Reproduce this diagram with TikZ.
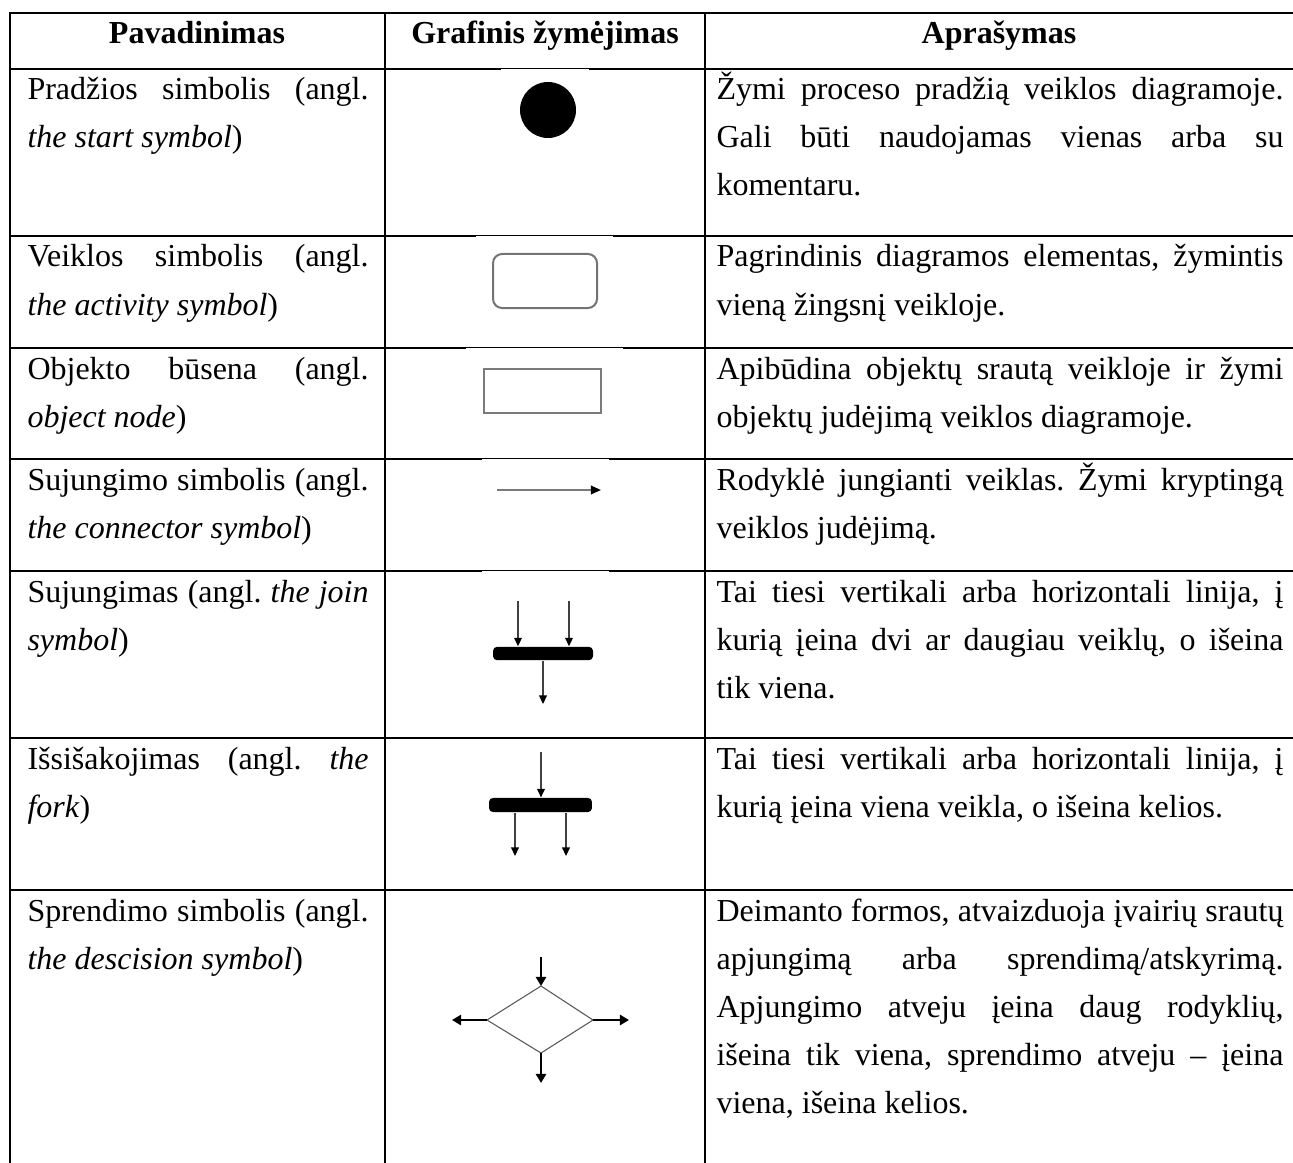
\documentclass[tikz,border=0pt]{standalone}
\usepackage{fontspec}
\setmainfont{Liberation Serif}
\usetikzlibrary{arrows.meta}
% the font's own interword spacing (TikZ alignment fixes it otherwise)
\newcommand\natsp{\spaceskip=0pt\xspaceskip=0pt\relax}
% justified lines of the two text columns
\newcommand\nline[1]{\makebox[127.9pt][s]{\natsp#1}}
\newcommand\dline[1]{\makebox[212.6pt][s]{\natsp#1}}
\definecolor{boxgray}{HTML}{747474}
\definecolor{arrgray}{HTML}{7A7A7A}
\begin{document}
\frenchspacing
\begin{tikzpicture}[x=0.375pt,y=-0.375pt,
  gridline/.style={line width=0.75pt,line cap=rect},
  thinseg/.style={line width=0.375pt},
  head/.style={anchor=base,inner sep=0pt,font=\fontsize{12}{18}\selectfont\bfseries},
  namecell/.style={anchor=base west,inner sep=0pt,text width=127.9pt,align=left,
    font=\fontsize{12}{18}\selectfont},
  desccell/.style={anchor=base west,inner sep=0pt,text width=212.6pt,align=left,
    font=\fontsize{12}{18}\selectfont},
  startdot/.style={circle,fill=black,minimum size=21pt,inner sep=0pt},
  activity/.style={draw=boxgray,line width=0.75pt,rounded corners=3.4pt,
    minimum width=39pt,minimum height=20.25pt,inner sep=0pt},
  objnode/.style={draw=arrgray,line width=0.95pt,
    minimum width=43.9pt,minimum height=16.5pt,inner sep=0pt},
  bar/.style={fill=black,rounded corners=1.5pt,minimum width=37.5pt,
    minimum height=5pt,inner sep=0pt},
  conn/.style={draw=arrgray,line width=0.75pt,
    -{Triangle[length=3.8pt,width=3.2pt,fill=black,color=black]}},
  thinarrow/.style={draw=black!75,line width=0.45pt,
    -{Triangle[length=3.2pt,width=2.9pt,fill=black,color=black]}},
  decarrow/.style={draw=black,line width=0.85pt,
    -{Triangle[length=3.4pt,width=3.8pt]}},
  diam/.style={draw=black!65,line width=0.4pt}]

\useasboundingbox (0,0) rectangle (1293,1162);
\fill[white] (0,0) rectangle (1293,1162);

% table rules
\foreach \yy in {13,738,890} \draw[gridline] (10,\yy) -- (1293,\yy);
\foreach \yy/\aa/\bb in {69/500/590,236/475/614,348/465/624,459/481/610,571/481/610}{
  \draw[gridline] (10,\yy) -- (\aa,\yy);
  \draw[gridline] (\bb,\yy) -- (1293,\yy);
  \draw[thinseg] (\aa,\yy-0.5) -- (\bb,\yy-0.5);
}
\foreach \xx in {10,385,705} \draw[gridline] (\xx,13) -- (\xx,1162);

% header
\node[head] (h1) at (197,44) {Pavadinimas};
\node[head] (h2) at (545,44) {Grafinis žymėjimas};
\node[head] (h3) at (999,44) {Aprašymas};

% names
\node[namecell] (n1) at (27,100) {\natsp\nline{Pradžios simbolis (angl.}\\\textit{the start symbol})};
\node[namecell] (n2) at (27,267) {\natsp\nline{Veiklos simbolis (angl.}\\\textit{the activity symbol})};
\node[namecell] (n3) at (27,379) {\natsp\nline{Objekto būsena (angl.}\\\textit{object node})};
\node[namecell] (n4) at (27,490) {\natsp\nline{Sujungimo simbolis (angl.}\\\textit{the connector symbol})};
\node[namecell] (n5) at (27,602) {\natsp\nline{Sujungimas (angl. \textit{the join}}\\\textit{symbol})};
\node[namecell] (n6) at (27,769) {\natsp\nline{Išsišakojimas (angl. \textit{the}}\\\textit{fork})};
\node[namecell] (n7) at (27,921) {\natsp\nline{Sprendimo simbolis (angl.}\\\textit{the descision symbol})};

% descriptions
\node[desccell] (d1) at (716,100) {\natsp\dline{Žymi proceso pradžią veiklos diagramoje.}\\
  \dline{Gali būti naudojamas vienas arba su}\\komentaru.};
\node[desccell] (d2) at (716,267) {\natsp\dline{Pagrindinis diagramos elementas, žymintis}\\
  vieną žingsnį veikloje.};
\node[desccell] (d3) at (716,379) {\natsp\dline{Apibūdina objektų srautą veikloje ir žymi}\\
  objektų judėjimą veiklos diagramoje.};
\node[desccell] (d4) at (716,490) {\natsp\dline{Rodyklė jungianti veiklas. Žymi kryptingą}\\
  veiklos judėjimą.};
\node[desccell] (d5) at (716,602) {\natsp\dline{Tai tiesi vertikali arba horizontali linija, į}\\
  \dline{kurią įeina dvi ar daugiau veiklų, o išeina}\\tik viena.};
\node[desccell] (d6) at (716,769) {\natsp\dline{Tai tiesi vertikali arba horizontali linija, į}\\
  kurią įeina viena veikla, o išeina kelios.};
\node[desccell] (d7) at (716,921) {\natsp\dline{Deimanto formos, atvaizduoja įvairių srautų}\\
  \dline{apjungimą arba sprendimą/atskyrimą.}\\
  \dline{Apjungimo atveju įeina daug rodyklių,}\\
  \dline{išeina tik viena, sprendimo atveju – įeina}\\
  viena, išeina kelios.};

% start symbol
\node[startdot] (start) at (548,110) {};

% activity symbol
\node[activity] (act) at (545,281) {};

% object node
\node[objnode] (obj) at (542.5,391) {};

% connector symbol
\coordinate (c1) at (497,490);
\coordinate (c2) at (601,490);
\draw[conn] (c1) -- (c2);

% join
\node[bar] (join) at (543,653.5) {};
\coordinate (ja) at (518,601);
\coordinate (jb) at (569,601);
\coordinate (jo) at (543,704);
\draw[thinarrow] (ja) -- (ja |- join.north);
\draw[thinarrow] (jb) -- (jb |- join.north);
\draw[thinarrow] (join.south) -- (jo);

% fork
\node[bar,minimum height=5.3pt,minimum width=38.6pt] (fork) at (540.5,805) {};
\coordinate (fi) at (541,752);
\coordinate (fa) at (515,856);
\coordinate (fb) at (566,856);
\draw[thinarrow] (fi) -- (fi |- fork.north);
\draw[thinarrow] (fa |- fork.south) -- (fa);
\draw[thinarrow] (fb |- fork.south) -- (fb);

% decision
\coordinate (dT) at (541,986);
\coordinate (dR) at (593,1020);
\coordinate (dB) at (541,1053);
\coordinate (dL) at (487,1020);
\draw[diam] (dT) -- (dR) -- (dB) -- (dL) -- cycle;
\coordinate (din) at (541,957);
\coordinate (dlo) at (452,1020);
\coordinate (dro) at (629,1020);
\coordinate (dbo) at (541,1083);
\draw[decarrow] (din) -- (dT);
\draw[decarrow] (dL) -- (dlo);
\draw[decarrow] (dR) -- (dro);
\draw[decarrow] (dB) -- (dbo);
\end{tikzpicture}
\end{document}
